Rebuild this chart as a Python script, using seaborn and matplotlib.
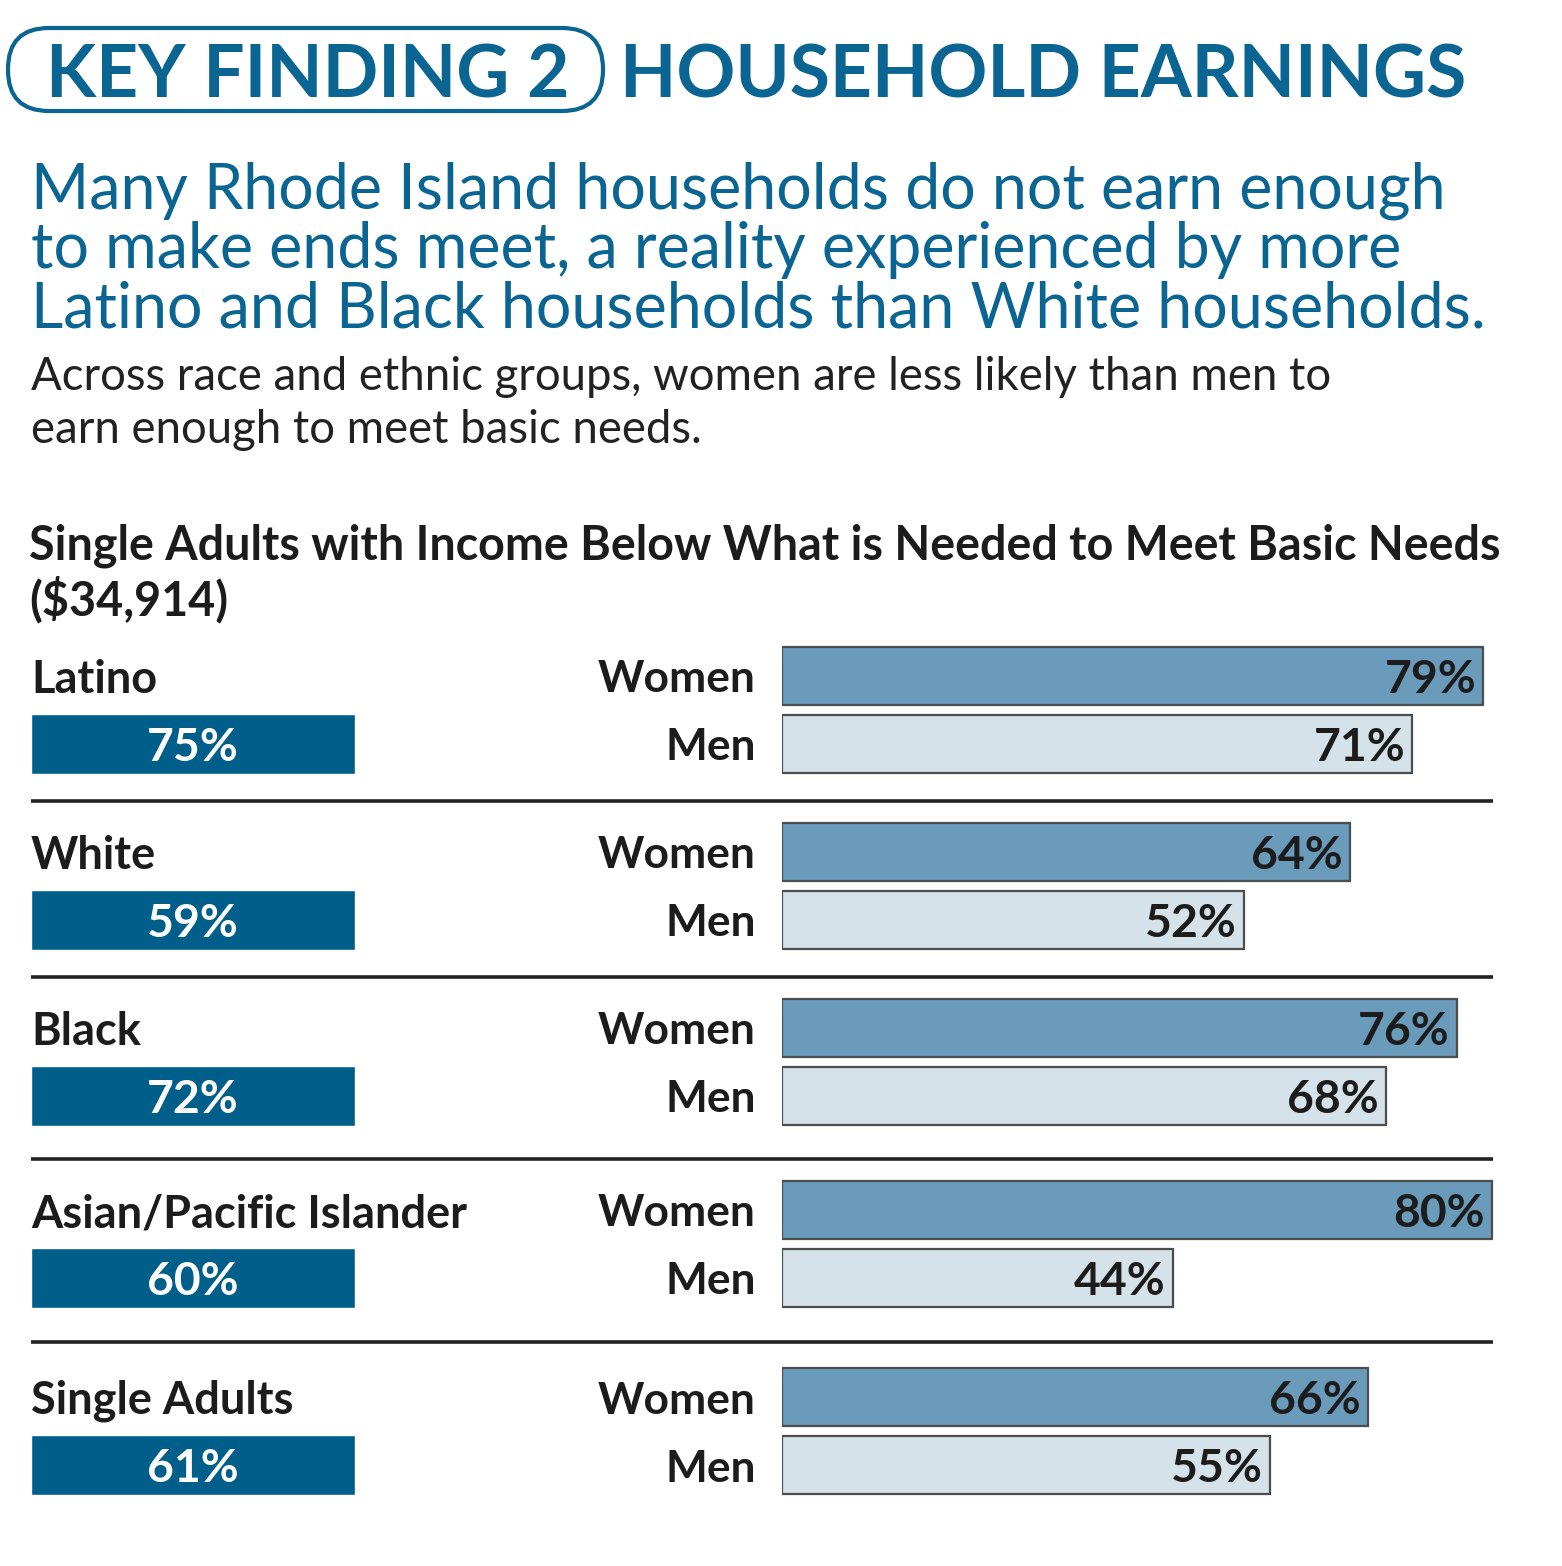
import matplotlib
matplotlib.use("Agg")
import matplotlib.pyplot as plt
from matplotlib.patches import FancyBboxPatch
import pandas as pd
import seaborn as sns

W, H = 1562, 1566

# data
groups = ["Latino", "White", "Black", "Asian/Pacific Islander", "Single Adults"]
overall = [75, 59, 72, 60, 61]
women = [79, 64, 76, 80, 66]
men = [71, 52, 68, 44, 55]
sexes = ["Women", "Men"]

header_left = "KEY FINDING 2"
header_right = "HOUSEHOLD EARNINGS"
lead_lines = [
    "Many Rhode Island households do not earn enough",
    "to make ends meet, a reality experienced by more",
    "Latino and Black households than White households.",
]
body_lines = [
    "Across race and ethnic groups, women are less likely than men to",
    "earn enough to meet basic needs.",
]
title_lines = [
    "Single Adults with Income Below What is Needed to Meet Basic Needs",
    "($34,914)",
]

# layout, pixels from the top-left corner
row_top = [647, 823, 999, 1181, 1368]   # top edge of each Women bar
rules_y = [801, 977, 1159, 1342]
ROW_STEP = 68                            # distance between Women and Men bar centres
BAR_H = 58
BAR_X0 = 782
PX_PER_PCT = 8.875

BLUE = "#0a6592"
BOX = "#005f8a"
WOMEN_C = "#6a9bbb"
MEN_C = "#d6e2e9"
INK = "#1c1c1c"
EDGE = "#4d4d4d"

sns.set_theme(style="white")
plt.rcParams["font.family"] = ["Lato", "DejaVu Sans"]

fig = plt.figure(figsize=(W / 100, H / 100), dpi=100)
renderer = fig.canvas.get_renderer()

bg = fig.add_axes([0, 0, 1, 1])
bg.set_xlim(0, W)
bg.set_ylim(H, 0)
bg.axis("off")


def size_for(s, width, **kw):
    """font size (pt) that makes string s about `width` pixels wide"""
    t = fig.text(0, 0, s, fontsize=50, **kw)
    w = t.get_window_extent(renderer).width
    t.remove()
    return 50 * width / w


# header
hsz = size_for(header_right, 848, weight="bold")
bg.text(620, 98, header_right, fontsize=hsz, weight="bold",
        color=BLUE, va="baseline")
bg.text(308, 98, header_left, fontsize=hsz, weight="bold",
        color=BLUE, va="baseline", ha="center")
bg.add_patch(FancyBboxPatch((8, 28), 595, 83,
                            boxstyle="round,pad=0,rounding_size=41",
                            fc="none", ec=BLUE, lw=3.0))

# lead text
lsz = size_for(lead_lines[0], 1414)
for line, y in zip(lead_lines, [208, 268, 328]):
    bg.text(31, y, line, fontsize=lsz, color=BLUE, va="baseline")

bsz = size_for(body_lines[0], 1299)
for line, y in zip(body_lines, [390, 443]):
    bg.text(31, y, line, fontsize=bsz, color="#222222", va="baseline")

tsz = size_for(title_lines[0], 1475, weight="bold")
for line, y in zip(title_lines, [560, 615]):
    bg.text(29, y, line, fontsize=tsz, color=INK, weight="bold", va="baseline")

bg.hlines(rules_y, 31, 1493, color="#222222", lw=2.6)

# chart rows
gsz = size_for("Asian/Pacific Islander", 437, weight="bold")
ksz = size_for("Women", 158, weight="bold")
vsz = size_for("79%", 92, weight="bold")

right_w = W - BAR_X0
for i, g in enumerate(groups):
    top = row_top[i] - (ROW_STEP - BAR_H) / 2
    ax_h = 2 * ROW_STEP
    rect_y = 1 - (top + ax_h) / H

    df = pd.DataFrame({"sex": sexes, "pct": [women[i], men[i]]})
    ax = fig.add_axes([BAR_X0 / W, rect_y, right_w / W, ax_h / H])
    sns.barplot(data=df, x="pct", y="sex", hue="sex", order=sexes,
                palette={"Women": WOMEN_C, "Men": MEN_C}, width=BAR_H / ROW_STEP,
                saturation=1, edgecolor=EDGE, linewidth=1.6, legend=False, ax=ax)
    ax.set_xlim(0, right_w / PX_PER_PCT)
    ax.set_ylim(1.5, -0.5)
    ax.set_xticks([])
    ax.set_xlabel("")
    ax.set_ylabel("")
    ax.tick_params(axis="y", length=0, pad=19, labelsize=ksz, labelcolor=INK)
    for lab in ax.get_yticklabels():
        lab.set_fontweight("bold")
    sns.despine(ax=ax, left=True, bottom=True)
    ax.patch.set_alpha(0)
    for j, v in enumerate([women[i], men[i]]):
        ax.annotate(f"{v}%", xy=(v, j), xytext=(-5, 0), textcoords="offset points",
                    ha="right", va="center_baseline", fontsize=vsz,
                    weight="bold", color=INK)

    # overall badge + group name
    axl = fig.add_axes([31 / W, rect_y, 324 / W, ax_h / H])
    sns.barplot(x=[overall[i]], y=["Men"], order=sexes, color=BOX,
                width=60 / ROW_STEP, saturation=1, ax=axl)
    axl.set_xlim(0, overall[i])
    axl.set_ylim(1.5, -0.5)
    axl.axis("off")
    axl.text(overall[i] / 2, 1, f"{overall[i]}%", ha="center", va="center_baseline",
             fontsize=vsz, weight="bold", color="white")
    axl.text(0, 0, g, ha="left", va="center_baseline", fontsize=gsz,
             weight="bold", color=INK)

fig.savefig("out.png", dpi=100)
